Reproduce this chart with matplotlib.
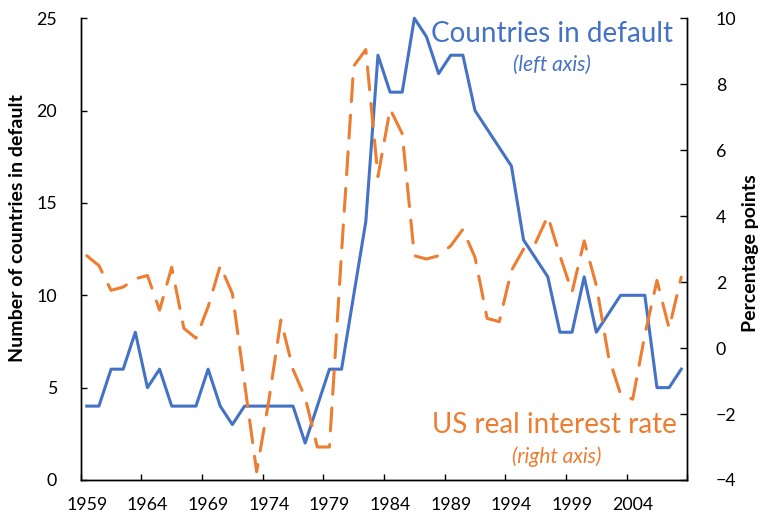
import matplotlib.pyplot as plt
import numpy as np

plt.rcParams['font.family'] = ['Lato', 'DejaVu Sans']

# one value per year, 1959-2008
years = np.arange(1959, 2009)

countries_in_default = [4, 4, 6, 6, 8, 5, 6, 4, 4, 4,
                        6, 4, 3, 4, 4, 4, 4, 4, 2, 4,
                        6, 6, 10, 14, 23, 21, 21, 25, 24, 22,
                        23, 23, 20, 19, 18, 17, 13, 12, 11, 8,
                        8, 11, 8, 9, 10, 10, 10, 5, 5, 6]

us_real_rate = [2.8, 2.5, 1.75, 1.85, 2.1, 2.2, 1.15, 2.45, 0.6, 0.3,
                1.25, 2.5, 1.65, -1.05, -3.75, -1.6, 0.85, -0.65, -1.5, -3.0,
                -3.0, 2.9, 8.55, 9.05, 5.2, 7.25, 6.5, 2.8, 2.7, 2.8,
                3.1, 3.6, 2.75, 0.9, 0.8, 2.35, 3.0, 3.2, 4.0, 2.8,
                1.7, 3.25, 1.9, -0.25, -1.4, -1.55, 0.4, 2.05, 0.6, 2.15]

label_years = [1959, 1964, 1969, 1974, 1979, 1984, 1989, 1994, 1999, 2004]

blue = '#4472C4'
orange = '#ED7D31'

fig = plt.figure(figsize=(7.63, 5.18), dpi=100)
ax = fig.add_axes([0.1058, 0.0734, 0.795, 0.8913])
ax2 = ax.twinx()

ax.plot(years, countries_in_default, color=blue, lw=2.2, clip_on=False)
ax2.plot(years, us_real_rate, color=orange, lw=2.2, dashes=(7.5, 4.5),
         dash_capstyle='round', clip_on=False)

ax.set_xlim(1958.5, 2008.5)
ax.set_ylim(0, 25)
ax.set_yticks(range(0, 26, 5))
ax2.set_ylim(-4, 10)
ax2.set_yticks(range(-4, 11, 2))

# tick marks sit between categories, labels centred on them
ax.set_xticks(np.arange(1958.5, 2009, 5))
ax.set_xticks(label_years, minor=True)
ax.set_xticklabels([str(y) for y in label_years], minor=True)
ax.tick_params(axis='x', which='major', direction='in', length=4.5, width=1,
               labelbottom=False)
ax.tick_params(axis='x', which='minor', length=0, pad=12.5, labelsize=12.8)
ax.tick_params(axis='y', direction='in', length=4.5, width=1, pad=17,
               labelsize=12.8)
ax2.tick_params(axis='y', direction='in', length=5, width=1, pad=20.5,
                labelsize=12.8)

for a in (ax, ax2):
    a.spines['top'].set_visible(False)
    for s in ('left', 'right', 'bottom'):
        a.spines[s].set_linewidth(1)
        a.spines[s].set_color('black')

ax.text(-0.105, 0.546, 'Number of countries in default', rotation=90,
        ha='center', va='center', fontsize=14, fontweight='bold',
        transform=ax.transAxes)
ax.text(1.1034, 0.4917, 'Percentage points', rotation=90,
        ha='center', va='center', fontsize=14, fontweight='bold',
        transform=ax.transAxes)

ax2.text(0.777, 0.9487, 'Countries in default', color=blue, fontsize=20,
         ha='center', va='baseline', transform=ax2.transAxes)
ax2.text(0.777, 0.886, '(left axis)', color=blue, fontsize=15, style='italic',
         ha='center', va='baseline', transform=ax2.transAxes)
ax2.text(0.7807, 0.1018, 'US real interest rate', color=orange, fontsize=20,
         ha='center', va='baseline', transform=ax2.transAxes)
ax2.text(0.784, 0.0368, '(right axis)', color=orange, fontsize=15,
         style='italic', ha='center', va='baseline', transform=ax2.transAxes)

fig.savefig('out.png', dpi=100)
